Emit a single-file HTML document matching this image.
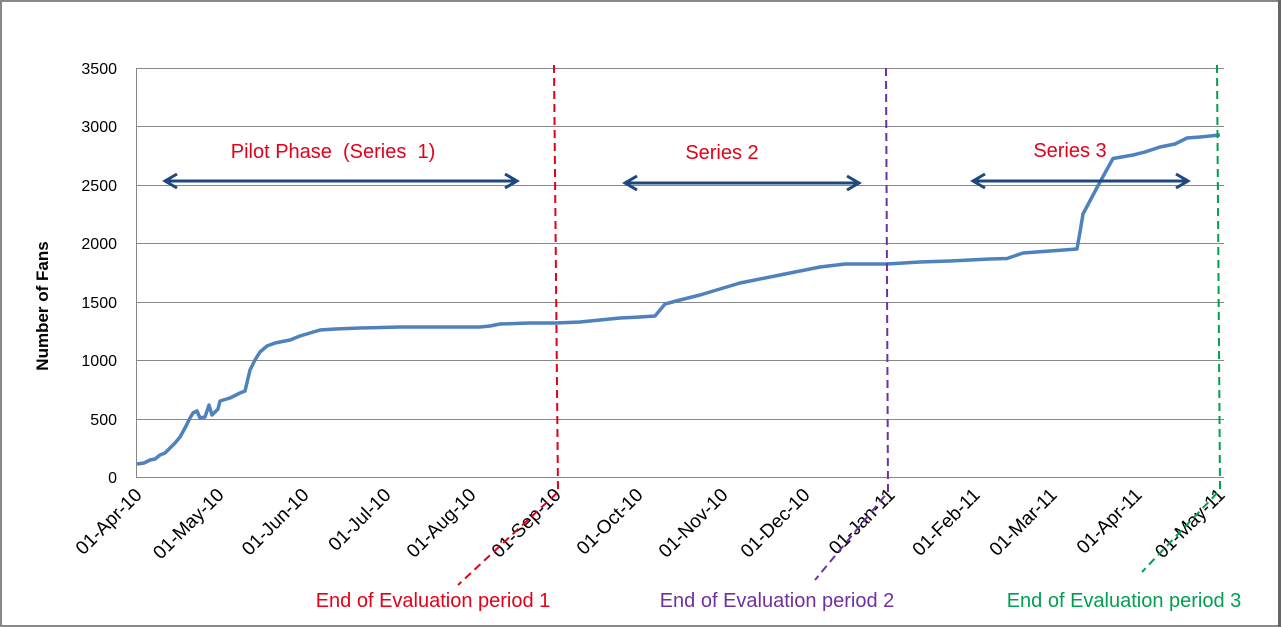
<!DOCTYPE html>
<html><head><meta charset="utf-8"><style>
html,body{margin:0;padding:0;background:#fff}
svg{display:block}
text{font-family:"Liberation Sans",sans-serif}
</style></head><body>
<svg width="1282" height="627" viewBox="0 0 1282 627" xmlns="http://www.w3.org/2000/svg">
<rect x="0" y="0" width="1282" height="627" fill="#fff"/>
<rect x="1" y="1" width="1278" height="625" fill="none" stroke="#888" stroke-width="2"/>
<line x1="1279.5" y1="0" x2="1279.5" y2="627" stroke="#666" stroke-width="3"/>
<g stroke="#888" stroke-width="1">
<line x1="137" y1="68.5" x2="1224" y2="68.5"/>
<line x1="137" y1="126.5" x2="1224" y2="126.5"/>
<line x1="137" y1="185.5" x2="1224" y2="185.5"/>
<line x1="137" y1="243.5" x2="1224" y2="243.5"/>
<line x1="137" y1="302.5" x2="1224" y2="302.5"/>
<line x1="137" y1="360.5" x2="1224" y2="360.5"/>
<line x1="137" y1="419.5" x2="1224" y2="419.5"/>
<line x1="137" y1="477.5" x2="1224" y2="477.5"/>
<line x1="136.5" y1="68" x2="136.5" y2="478"/>
</g>
<g font-size="16" fill="#000" text-anchor="end">
<text x="117" y="74">3500</text><text x="117" y="132">3000</text><text x="117" y="191">2500</text>
<text x="117" y="249">2000</text><text x="117" y="308">1500</text><text x="117" y="366">1000</text>
<text x="117" y="425">500</text><text x="117" y="483">0</text>
</g>
<text transform="translate(48,306) rotate(-90)" font-size="17" font-weight="bold" text-anchor="middle">Number of Fans</text>
<g font-size="19" fill="#000" text-anchor="end">
<text transform="translate(143,496) rotate(-45)">01-Apr-10</text>
<text transform="translate(225,496) rotate(-45)">01-May-10</text>
<text transform="translate(310,496) rotate(-45)">01-Jun-10</text>
<text transform="translate(392,496) rotate(-45)">01-Jul-10</text>
<text transform="translate(477,496) rotate(-45)">01-Aug-10</text>
<text transform="translate(562,496) rotate(-45)">01-Sep-10</text>
<text transform="translate(644,496) rotate(-45)">01-Oct-10</text>
<text transform="translate(729,496) rotate(-45)">01-Nov-10</text>
<text transform="translate(811,496) rotate(-45)">01-Dec-10</text>
<text transform="translate(896,496) rotate(-45)">01-Jan-11</text>
<text transform="translate(981,496) rotate(-45)">01-Feb-11</text>
<text transform="translate(1058,496) rotate(-45)">01-Mar-11</text>
<text transform="translate(1143,496) rotate(-45)">01-Apr-11</text>
<text transform="translate(1226,496) rotate(-45)">01-May-11</text>
</g>
<polyline fill="none" stroke="#4f81bd" stroke-width="3.5" stroke-linejoin="round" points="137,464 144,463 150,460 155,459 160,455 165,453 170,448 175,443 180,437 185,428 190,418 193,413 197,411 200,418 205,417 209,405 212,415 218,409 220,401 230,398 240,393 245,391 250,370 255,360 260,352 267,346 275,343 290,340 300,336 310,333 320,330 335,329 360,328 400,327 480,327 490,326 500,324 530,323 556,323 580,322 600,320 620,318 640,317 655,316 660,310 665,304 680,300 700,295 720,289 740,283 760,279 780,275 800,271 820,267 845,264 886,264 920,262 950,261 990,259 1007,258.5 1023,253 1050,251 1077,249 1080,232 1083,214 1092,197 1100,182 1113,158.5 1133,155 1145,152 1160,147 1175,144 1187,138 1200,137 1220,135"/>
<g stroke="#1f497d" stroke-width="3" fill="none">
<line x1="165" y1="181" x2="517" y2="181"/><polyline points="177,174 165,181 177,188"/><polyline points="505,174 517,181 505,188"/>
<line x1="625" y1="183" x2="859" y2="183"/><polyline points="637,176 625,183 637,190"/><polyline points="847,176 859,183 847,190"/>
<line x1="973" y1="181" x2="1188" y2="181"/><polyline points="985,174 973,181 985,188"/><polyline points="1176,174 1188,181 1176,188"/>
</g>
<g font-size="20" fill="#e3001b" text-anchor="middle">
<text x="333" y="158" xml:space="preserve">Pilot Phase  (Series  1)</text>
<text x="722" y="159">Series 2</text>
<text x="1070" y="157">Series 3</text>
</g>
<g fill="none" stroke-width="2" stroke-dasharray="8,5">
<polyline stroke="#e3001b" points="554,65 558,492 458,585"/>
<polyline stroke="#7030a0" points="886,68 888,492 815,580"/>
<polyline stroke="#00a050" points="1217,65 1220,490 1142,572"/>
</g>
<g font-size="20" text-anchor="middle">
<text x="433" y="607" fill="#e3001b">End of Evaluation period 1</text>
<text x="777" y="607" fill="#7030a0">End of Evaluation period 2</text>
<text x="1124" y="607" fill="#00a050">End of Evaluation period 3</text>
</g>
</svg>
</body></html>
